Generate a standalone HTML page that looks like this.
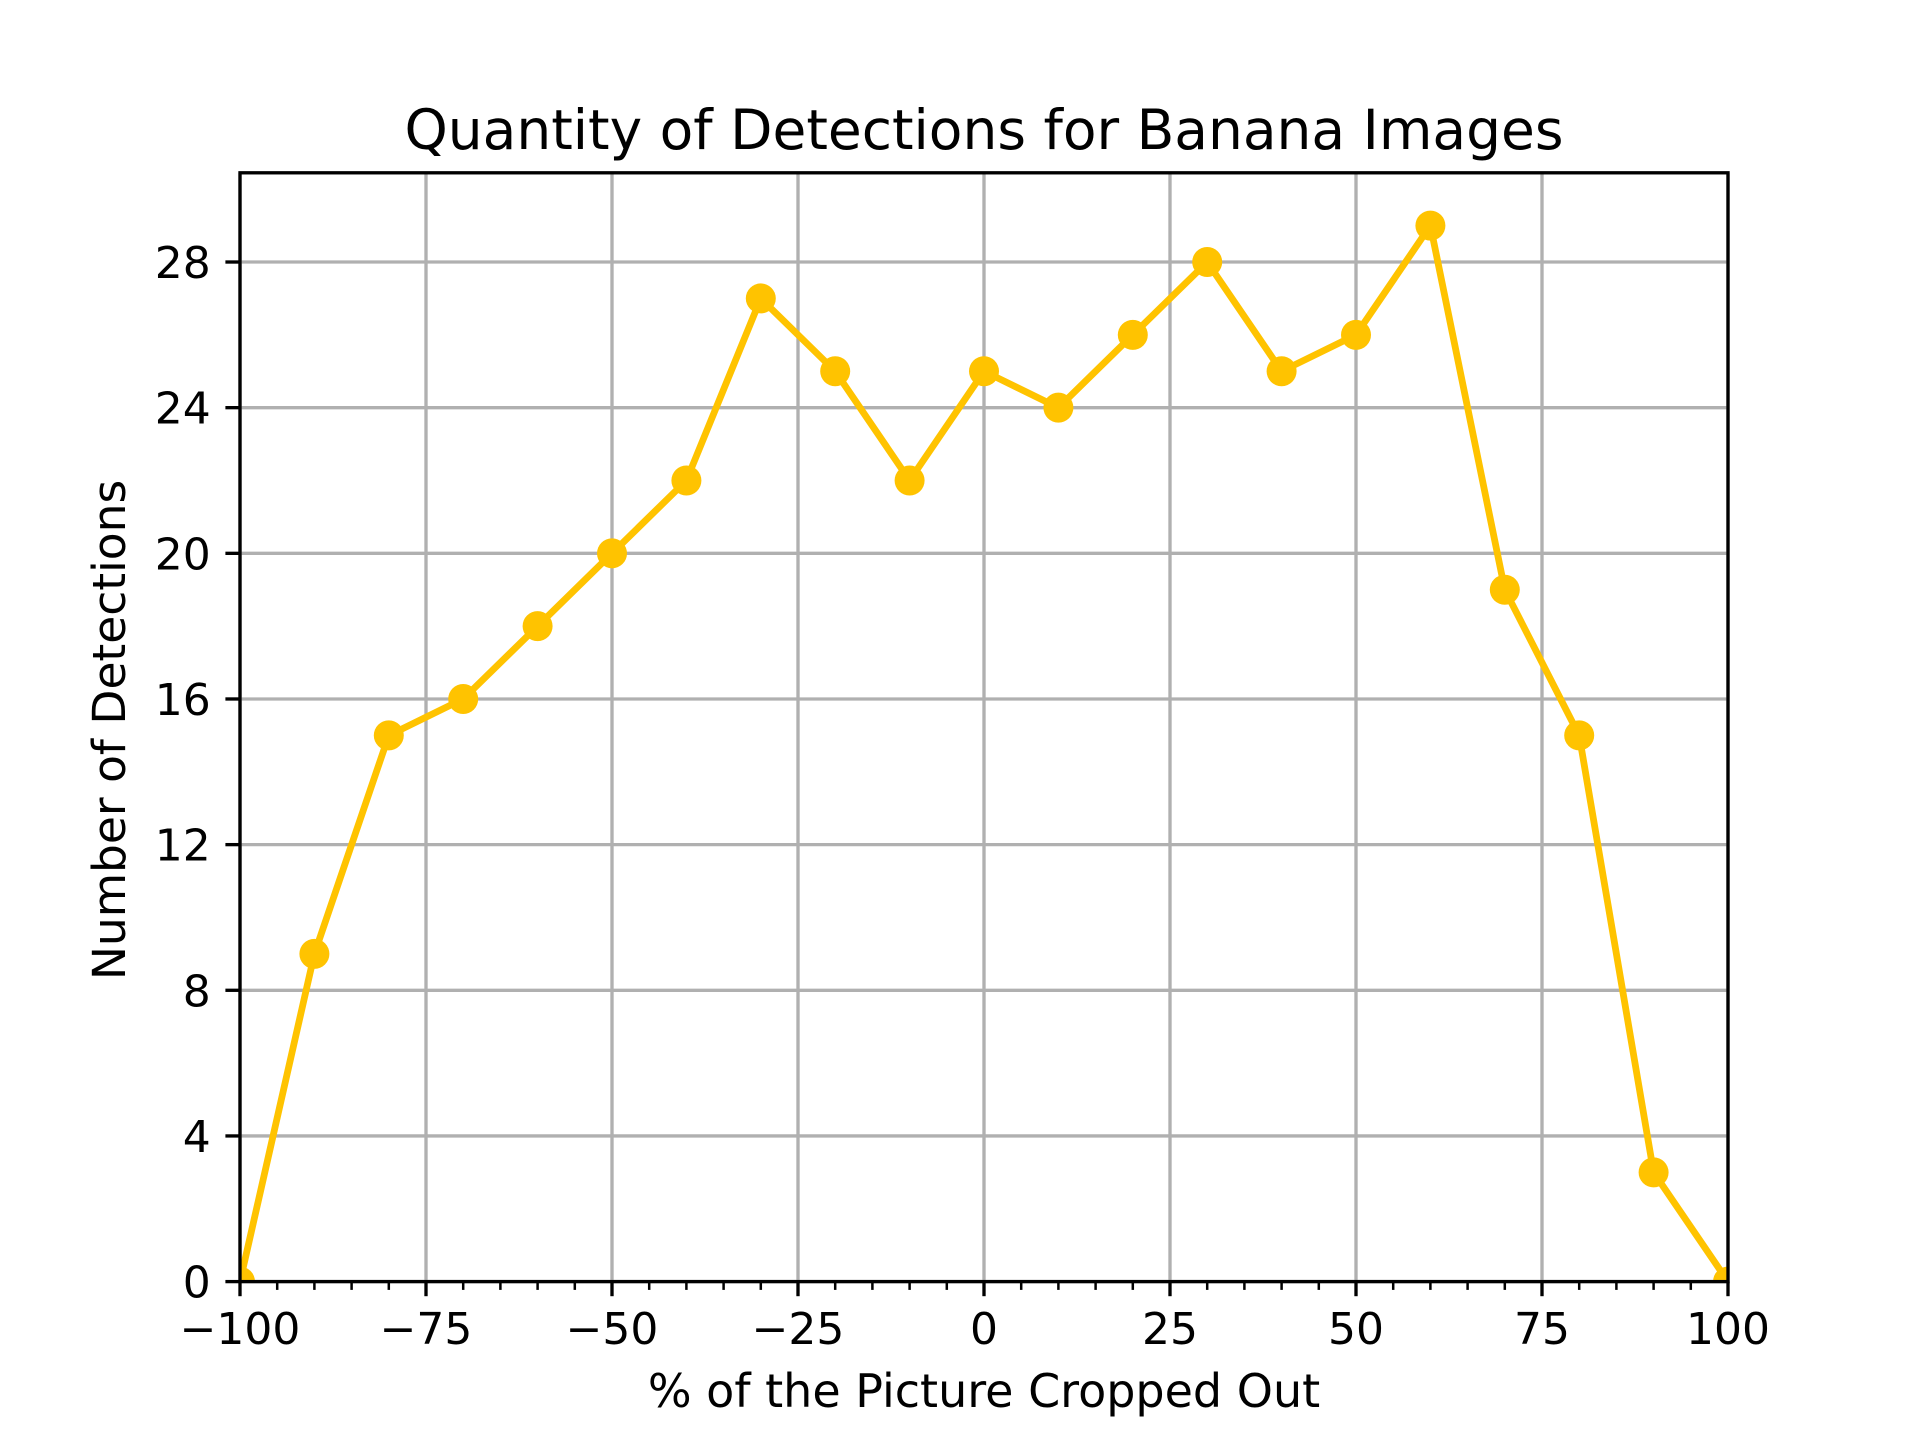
<!DOCTYPE html>
<html><head><meta charset="utf-8"><style>
html,body{margin:0;padding:0;background:#fff;}
svg{display:block;}
text{font-family:"DejaVu Sans","Liberation Sans",sans-serif;fill:#000;}
</style></head><body>
<svg id="chart" width="1920" height="1440" viewBox="0 0 1920 1440" xmlns="http://www.w3.org/2000/svg">
<defs><clipPath id="clip"><rect x="240" y="172.8" width="1488" height="1108.8"/></clipPath></defs>
<g id="grid"></g>
<g id="series" clip-path="url(#clip)"></g>
<rect x="240" y="172.8" width="1488" height="1108.8" fill="none" stroke="#000" stroke-width="3.33"/>
<g id="axes"></g>
<text x="984" y="149" font-size="55" text-anchor="middle">Quantity of Detections for Banana Images</text>
<text x="984" y="1407" font-size="46" text-anchor="middle">% of the Picture Cropped Out</text>
<text x="0" y="0" font-size="45.5" text-anchor="middle" transform="translate(125,730) rotate(-90)">Number of Detections</text>
</svg>
<script>
const xValues = [-100,-90,-80,-70,-60,-50,-40,-30,-20,-10,0,10,20,30,40,50,60,70,80,90,100];
const detections = [0,9,15,16,18,20,22,27,25,22,25,24,26,28,25,26,29,19,15,3,0];
const xTicks = [-100,-75,-50,-25,0,25,50,75,100];
const xTickLabels = ['\u2212100','\u221275','\u221250','\u221225','0','25','50','75','100'];
const yTicks = [0,4,8,12,16,20,24,28];
const yTickLabels = ['0','4','8','12','16','20','24','28'];
const xMin=-100,xMax=100,yMin=0,yMax=30.45;
const L=240,R=1728,T=172.8,B=1281.6;
const NS='http://www.w3.org/2000/svg';
function sx(v){return L+(v-xMin)/(xMax-xMin)*(R-L);}
function sy(v){return B-(v-yMin)/(yMax-yMin)*(B-T);}
function mk(tag,attrs,parent){const e=document.createElementNS(NS,tag);for(const k in attrs)e.setAttribute(k,attrs[k]);parent.appendChild(e);return e;}
const grid=document.getElementById('grid'),axes=document.getElementById('axes'),series=document.getElementById('series');
xTicks.forEach((t,i)=>{
  const x=sx(t);
  const g=mk('line',{x1:x,x2:x,y1:T,y2:B,stroke:'#b0b0b0','stroke-width':3.33},grid);
  
  
  const tk=mk('line',{x1:x,x2:x,y1:B,y2:B+14.6,stroke:'#000','stroke-width':3.33},axes);
  
  
  const tx=mk('text',{x:x,y:B+14.6+14.6+33,'font-size':44,'text-anchor':'middle'},axes);
  tx.textContent=xTickLabels[i];
  
  
});
for(let v=xMin;v<=xMax;v+=5){
  if(v%25===0)continue;
  const x=sx(v);
  const m=mk('line',{x1:x,x2:x,y1:B,y2:B+8.3,stroke:'#000','stroke-width':2.5},axes);
  
  
}
yTicks.forEach((t,i)=>{
  const y=sy(t);
  const g=mk('line',{x1:L,x2:R,y1:y,y2:y,stroke:'#b0b0b0','stroke-width':3.33},grid);
  
  
  const tk=mk('line',{x1:L-14.6,x2:L,y1:y,y2:y,stroke:'#000','stroke-width':3.33},axes);
  
  
  const tx=mk('text',{x:L-14.6-14.6,y:y+16,'font-size':44,'text-anchor':'end'},axes);
  tx.textContent=yTickLabels[i];
  
  
});
const pts=xValues.map((x,i)=>sx(x)+','+sy(detections[i])).join(' ');
const line=mk('polyline',{points:pts,fill:'none',stroke:'#ffc300','stroke-width':6.8,'stroke-linejoin':'round'},series);


xValues.forEach((x,i)=>{
  const c=mk('circle',{cx:sx(x),cy:sy(detections[i]),r:15,fill:'#ffc300'},series);
  
  
});
</script>
</body></html>
